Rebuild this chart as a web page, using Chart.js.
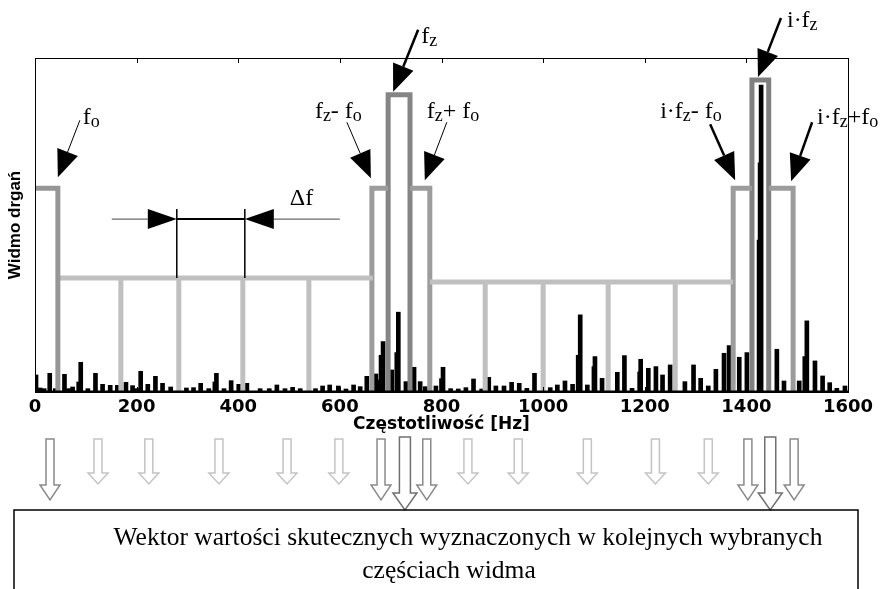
<!DOCTYPE html>
<html>
<head>
<meta charset="utf-8">
<script src="https://cdn.jsdelivr.net/npm/chart.js@4.4.0/dist/chart.umd.min.js"></script>
<style>
  html, body { margin: 0; padding: 0; background: #fff; }
</style>
</head>
<body>
<canvas id="chart" width="883" height="589"></canvas>
<script>
// x axis ticks (Hz)
const xTicks = [0, 200, 400, 600, 800, 1000, 1200, 1400, 1600];

// vibration spectrum (Hz / relative amplitude 0-100)
const specHz = [2, 10, 18, 29, 40, 58, 66, 74, 86, 90, 104, 119, 133, 148, 162, 179, 192, 200, 208, 222,
  237, 251, 267, 298, 312, 326, 342, 354, 357, 372, 386, 401, 417, 443, 461, 476, 492, 507, 522, 552,
  566, 580, 597, 612, 627, 640, 653, 671, 678, 681, 685, 702, 712, 715, 730, 746, 758, 768, 789, 800,
  803, 818, 833, 848, 863, 879, 893, 907, 923, 938, 953, 968, 983, 1014, 1028, 1043, 1058, 1069, 1073, 1087,
  1100, 1102, 1116, 1146, 1160, 1175, 1190, 1192, 1207, 1222, 1235, 1250, 1279, 1296, 1310, 1325, 1340, 1356, 1366, 1386,
  1401, 1425, 1427, 1429, 1460, 1474, 1504, 1515, 1519, 1535, 1550, 1564, 1578, 1594];
const specAmp = [5.1, 1.2, 1.0, 5.6, 1.0, 5.3, 1.0, 1.5, 3.0, 8.9, 1.0, 5.6, 2.3, 2.0, 2.0, 2.9, 1.9, 1.0, 6.2, 2.3,
  4.7, 2.6, 1.5, 1.2, 1.3, 2.6, 1.0, 3.0, 5.6, 1.0, 3.4, 2.3, 2.6, 1.0, 1.0, 2.1, 1.0, 1.4, 1.0, 1.0,
  1.8, 2.1, 1.8, 0.9, 2.1, 1.6, 4.7, 5.4, 3.6, 11.0, 15.1, 6.6, 11.8, 23.9, 3.1, 7.4, 3.1, 1.6, 1.8, 4.0,
  7.4, 1.0, 0.9, 1.3, 3.9, 0.9, 4.4, 1.8, 1.8, 2.9, 2.6, 1.1, 5.6, 1.3, 2.1, 3.3, 2.3, 11.0, 23.1, 2.1,
  7.6, 10.6, 4.1, 5.9, 10.9, 1.1, 6.0, 9.8, 7.1, 7.6, 5.1, 8.1, 3.1, 8.1, 4.1, 1.8, 6.8, 11.6, 13.9, 10.4,
  11.8, 45.5, 68.6, 91.9, 12.8, 3.3, 3.3, 10.6, 21.3, 9.3, 4.8, 2.8, 1.1, 1.8];

// selected parts of the spectrum
const foHz = 45;
const sideLevel = 61;
const fzBand = [663, 695, 738, 777];
const fzLevel = 89;
const ifzBand = [1374, 1411, 1444, 1492];
const ifzLevel = 93.4;
const comb1Span = [45, 665];
const comb1Hz = [169, 283, 409, 539];
const comb1Level = 34.1;
const comb2Span = [777, 1374];
const comb2Hz = [886, 1000, 1128, 1260];
const comb2Level = 32.9;
const deltaHz = [283, 409];

// arrows going down to the result vector
const lightArrowsHz = [124, 224, 362, 496, 598, 852, 951, 1087, 1221, 1325];
const darkArrowsHz = [29.5, 681, 771, 1403, 1494];
const bigArrowsHz = [728, 1447];

const SERIF = '"Liberation Serif", "Times New Roman", serif';

function combPoints(span, hz, level) {
  const pts = [{ x: span[0], y: level }, { x: span[1], y: level }];
  hz.forEach((h) => {
    pts.push({ x: h, y: null }, { x: h, y: level }, { x: h, y: 0 });
  });
  return pts;
}

function outerPoints(e) {
  return [
    { x: e[0], y: 0 }, { x: e[0], y: sideLevel }, { x: e[1], y: sideLevel },
    { x: e[2], y: null },
    { x: e[2], y: sideLevel }, { x: e[3], y: sideLevel }, { x: e[3], y: 0 },
  ];
}

function innerPoints(e, top) {
  return [{ x: e[1], y: 0 }, { x: e[1], y: top }, { x: e[2], y: top }, { x: e[2], y: 0 }];
}

const lineStyle = (color) => ({
  type: "line",
  borderColor: color,
  borderWidth: 5,
  pointRadius: 0,
  fill: false,
  spanGaps: false,
  tension: 0,
  borderJoinStyle: "miter",
  borderCapStyle: "butt",
});

// annotation arrows with labels (parts: [text, isSubscript])
const notes = [
  { hz: foHz, lvl: sideLevel, tip: [0, -11], tail: [22, -57], txt: [25, -53], parts: [["f"], ["o", 1]], w: 1 },
  { hz: fzBand[1], lvl: fzLevel, tip: [5, -3], tail: [25, -62], txt: [28, -49], parts: [["f"], ["z", 1]], w: 2.5 },
  { hz: fzBand[0], lvl: sideLevel, tip: [-1, -10], tail: [-24, -56], txt: [-56, -60], parts: [["f"], ["z", 1], ["- f"], ["o", 1]], w: 1 },
  { hz: fzBand[3], lvl: sideLevel, tip: [-5, -8], tail: [22, -58], txt: [2, -62], parts: [["f"], ["z", 1], ["+ f"], ["o", 1]], w: 1 },
  { hz: ifzBand[0], lvl: sideLevel, tip: [2, -8], tail: [-25, -56], txt: [-75, -62], parts: [["i·f"], ["z", 1], ["- f"], ["o", 1]], w: 2.5 },
  { hz: ifzBand[1], lvl: ifzLevel, tip: [6, -3], tail: [23, -59], txt: [29, -50], parts: [["i·f"], ["z", 1]], w: 2.5 },
  { hz: ifzBand[3], lvl: sideLevel, tip: [-2, -7], tail: [21, -59], txt: [26, -57], parts: [["i·f"], ["z", 1], ["+f"], ["o", 1]], w: 2.5 },
];

function drawLabel(ctx, x, y, parts) {
  let cx = x;
  parts.forEach(([t, sub]) => {
    ctx.font = (sub ? "18px " : "24px ") + SERIF;
    ctx.fillText(t, cx, sub ? y + 3 : y);
    cx += ctx.measureText(t).width;
  });
}

function drawArrow(ctx, x0, y0, x1, y1, w, hl, hw) {
  const dx = x1 - x0, dy = y1 - y0;
  const L = Math.hypot(dx, dy);
  const ux = dx / L, uy = dy / L;
  const bx = x1 - ux * hl, by = y1 - uy * hl;
  ctx.lineWidth = w;
  ctx.beginPath();
  ctx.moveTo(x0, y0);
  ctx.lineTo(bx, by);
  ctx.stroke();
  ctx.beginPath();
  ctx.moveTo(x1, y1);
  ctx.lineTo(bx - uy * hw, by + ux * hw);
  ctx.lineTo(bx + uy * hw, by - ux * hw);
  ctx.closePath();
  ctx.fill();
}

function hollowArrow(ctx, x, yTop, yTip, shaftW, headW, headL, color) {
  const yNeck = yTip - headL;
  ctx.beginPath();
  ctx.moveTo(x - shaftW / 2, yTop);
  ctx.lineTo(x + shaftW / 2, yTop);
  ctx.lineTo(x + shaftW / 2, yNeck);
  ctx.lineTo(x + headW / 2, yNeck);
  ctx.lineTo(x, yTip);
  ctx.lineTo(x - headW / 2, yNeck);
  ctx.lineTo(x - shaftW / 2, yNeck);
  ctx.closePath();
  ctx.fillStyle = "#fff";
  ctx.fill();
  ctx.strokeStyle = color;
  ctx.lineWidth = 1.5;
  ctx.stroke();
}

const decor = {
  id: "decor",
  afterDraw(chart) {
    const { ctx, chartArea: a, scales: { x, y } } = chart;
    ctx.save();

    // frame + inward ticks
    ctx.strokeStyle = "#000";
    ctx.lineWidth = 1;
    ctx.strokeRect(a.left + 0.5, a.top + 0.5, a.right - a.left, a.bottom - a.top);
    ctx.lineWidth = 2;
    ctx.beginPath();
    ctx.moveTo(a.left, a.bottom - 0.5);
    ctx.lineTo(a.right, a.bottom - 0.5);
    ctx.stroke();
    ctx.lineWidth = 1;
    xTicks.forEach((v) => {
      const px = Math.round(x.getPixelForValue(v)) + 0.5;
      ctx.beginPath();
      ctx.moveTo(px, a.top);
      ctx.lineTo(px, a.top + 5);
      ctx.moveTo(px, a.bottom);
      ctx.lineTo(px, a.bottom - 5);
      ctx.stroke();
    });

    // labelled arrows
    ctx.fillStyle = "#000";
    ctx.strokeStyle = "#000";
    ctx.textBaseline = "alphabetic";
    ctx.textAlign = "left";
    notes.forEach((n) => {
      const ax = x.getPixelForValue(n.hz), ay = y.getPixelForValue(n.lvl);
      const tx = ax + n.tip[0], ty = ay + n.tip[1];
      drawArrow(ctx, tx + n.tail[0], ty + n.tail[1], tx, ty, n.w, 27, 11);
      drawLabel(ctx, tx + n.txt[0], ty + n.txt[1], n.parts);
    });

    // delta f dimension
    const lx = x.getPixelForValue(deltaHz[0]) - 2;
    const rx = x.getPixelForValue(deltaHz[1]) + 2;
    const base = y.getPixelForValue(comb1Level);
    const dimY = base - 59;
    ctx.lineWidth = 1.5;
    ctx.beginPath();
    ctx.moveTo(lx, base);
    ctx.lineTo(lx, base - 69);
    ctx.moveTo(rx, base);
    ctx.lineTo(rx, base - 69);
    ctx.stroke();
    ctx.lineWidth = 2;
    ctx.beginPath();
    ctx.moveTo(lx, dimY);
    ctx.lineTo(rx, dimY);
    ctx.stroke();
    ctx.strokeStyle = "#444";
    drawArrow(ctx, lx - 65, dimY, lx, dimY, 1, 29, 10);
    drawArrow(ctx, rx + 95, dimY, rx, dimY, 1, 29, 10);
    drawLabel(ctx, rx + 45, base - 73, [["Δf"]]);

    // arrows to result box
    lightArrowsHz.forEach((h) => hollowArrow(ctx, x.getPixelForValue(h), 439, 484, 8, 20, 11, "#c4c4c4"));
    darkArrowsHz.forEach((h) => hollowArrow(ctx, x.getPixelForValue(h), 439, 500, 8, 20, 15, "#8a8a8a"));
    bigArrowsHz.forEach((h) => hollowArrow(ctx, x.getPixelForValue(h), 437, 510, 11, 24, 17, "#707070"));

    // result box
    ctx.strokeStyle = "#000";
    ctx.lineWidth = 1.5;
    ctx.strokeRect(14, 510, 844, 100);
    ctx.fillStyle = "#000";
    ctx.font = "25.5px " + SERIF;
    ctx.textAlign = "center";
    ctx.fillText("Wektor wartości skutecznych wyznaczonych w kolejnych wybranych", 468, 545);
    ctx.fillText("częściach widma", 449, 578);
    ctx.restore();
  },
};

new Chart(document.getElementById("chart"), {
  type: "bar",
  data: {
    datasets: [
      { ...lineStyle("#969696"), data: [{ x: 0, y: sideLevel }, { x: foHz, y: sideLevel }, { x: foHz, y: 0 }] },
      { ...lineStyle("#c0c0c0"), data: combPoints(comb1Span, comb1Hz, comb1Level) },
      { ...lineStyle("#c0c0c0"), data: combPoints(comb2Span, comb2Hz, comb2Level) },
      { ...lineStyle("#9c9c9c"), data: outerPoints(fzBand) },
      { ...lineStyle("#9c9c9c"), data: outerPoints(ifzBand) },
      { ...lineStyle("#858585"), data: innerPoints(fzBand, fzLevel) },
      { ...lineStyle("#808080"), data: innerPoints(ifzBand, ifzLevel) },
      {
        type: "bar",
        order: 10,
        data: specHz.map((h, i) => ({ x: h, y: specAmp[i] })),
        backgroundColor: "#000",
        barThickness: 4,
      },
    ],
  },
  options: {
    responsive: false,
    animation: false,
    layout: { padding: { left: 0, right: 35, top: 58, bottom: 154 } },
    plugins: { legend: { display: false }, tooltip: { enabled: false } },
    scales: {
      x: {
        type: "linear",
        min: 0,
        max: 1600,
        offset: false,
        afterBuildTicks: (s) => { s.ticks = xTicks.map((v) => ({ value: v })); },
        afterFit: (s) => { s.height = 43; },
        grid: { display: false, drawTicks: false, offset: false },
        border: { display: true, color: "#000", width: 1 },
        ticks: {
          padding: 5,
          color: "#000",
          maxRotation: 0,
          autoSkip: false,
          callback: (v) => String(v),
          font: { family: '"DejaVu Sans", sans-serif', weight: "bold", size: 18 },
        },
        title: {
          display: true,
          text: "Częstotliwość [Hz]",
          color: "#000",
          padding: { top: 0, bottom: 0 },
          font: { family: '"DejaVu Sans", sans-serif', weight: "bold", size: 17 },
        },
      },
      y: {
        min: 0,
        max: 100,
        afterFit: (s) => { s.width = 35; },
        ticks: { display: false },
        grid: { display: false, drawTicks: false },
        border: { display: true, color: "#000", width: 1 },
        title: {
          display: true,
          text: "Widmo drgań",
          color: "#000",
          padding: { top: 5, bottom: 0 },
          font: { family: '"Liberation Sans Narrow", "Liberation Sans", sans-serif', weight: "bold", size: 17 },
        },
      },
    },
  },
  plugins: [decor],
});
</script>
</body>
</html>
